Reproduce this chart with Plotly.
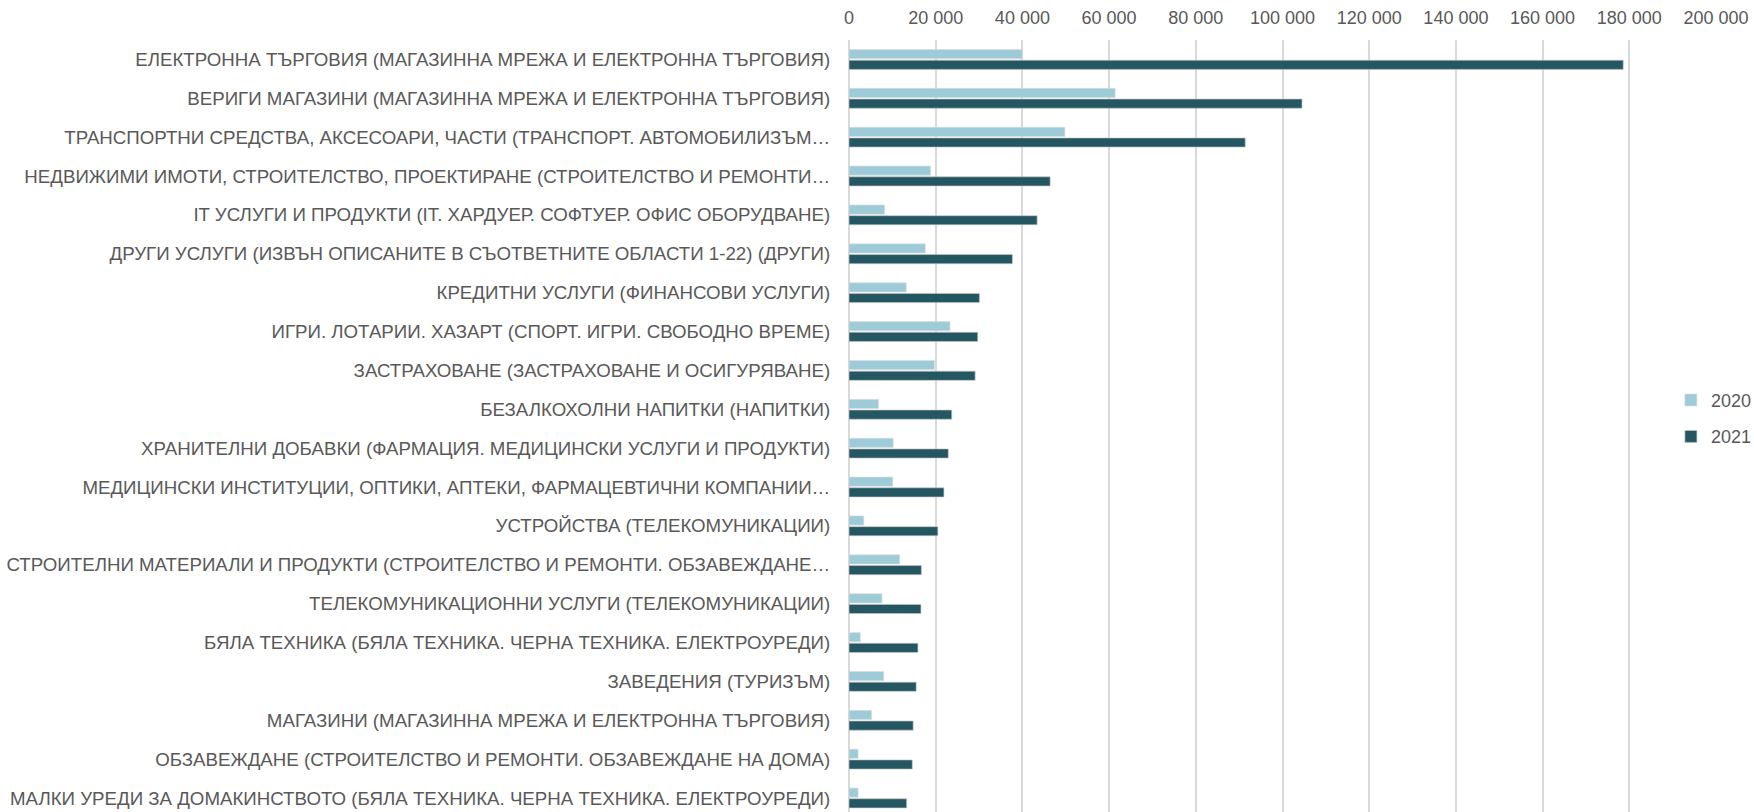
import plotly.graph_objects as go

categories = [
    "ЕЛЕКТРОННА ТЪРГОВИЯ (МАГАЗИННА МРЕЖА И ЕЛЕКТРОННА ТЪРГОВИЯ)",
    "ВЕРИГИ МАГАЗИНИ (МАГАЗИННА МРЕЖА И ЕЛЕКТРОННА ТЪРГОВИЯ)",
    "ТРАНСПОРТНИ СРЕДСТВА, АКСЕСОАРИ, ЧАСТИ (ТРАНСПОРТ. АВТОМОБИЛИЗЪМ…",
    "НЕДВИЖИМИ ИМОТИ, СТРОИТЕЛСТВО, ПРОЕКТИРАНЕ (СТРОИТЕЛСТВО И РЕМОНТИ…",
    "IT УСЛУГИ И ПРОДУКТИ (IT. ХАРДУЕР. СОФТУЕР. ОФИС ОБОРУДВАНЕ)",
    "ДРУГИ УСЛУГИ (ИЗВЪН ОПИСАНИТЕ В СЪОТВЕТНИТЕ ОБЛАСТИ 1-22) (ДРУГИ)",
    "КРЕДИТНИ УСЛУГИ (ФИНАНСОВИ УСЛУГИ)",
    "ИГРИ. ЛОТАРИИ. ХАЗАРТ (СПОРТ. ИГРИ. СВОБОДНО ВРЕМЕ)",
    "ЗАСТРАХОВАНЕ (ЗАСТРАХОВАНЕ И ОСИГУРЯВАНЕ)",
    "БЕЗАЛКОХОЛНИ НАПИТКИ (НАПИТКИ)",
    "ХРАНИТЕЛНИ ДОБАВКИ (ФАРМАЦИЯ. МЕДИЦИНСКИ УСЛУГИ И ПРОДУКТИ)",
    "МЕДИЦИНСКИ ИНСТИТУЦИИ, ОПТИКИ, АПТЕКИ, ФАРМАЦЕВТИЧНИ КОМПАНИИ…",
    "УСТРОЙСТВА (ТЕЛЕКОМУНИКАЦИИ)",
    "СТРОИТЕЛНИ МАТЕРИАЛИ И ПРОДУКТИ (СТРОИТЕЛСТВО И РЕМОНТИ. ОБЗАВЕЖДАНЕ…",
    "ТЕЛЕКОМУНИКАЦИОННИ УСЛУГИ (ТЕЛЕКОМУНИКАЦИИ)",
    "БЯЛА ТЕХНИКА (БЯЛА ТЕХНИКА. ЧЕРНА ТЕХНИКА. ЕЛЕКТРОУРЕДИ)",
    "ЗАВЕДЕНИЯ (ТУРИЗЪМ)",
    "МАГАЗИНИ (МАГАЗИННА МРЕЖА И ЕЛЕКТРОННА ТЪРГОВИЯ)",
    "ОБЗАВЕЖДАНЕ (СТРОИТЕЛСТВО И РЕМОНТИ. ОБЗАВЕЖДАНЕ НА ДОМА)",
    "МАЛКИ УРЕДИ ЗА ДОМАКИНСТВОТО (БЯЛА ТЕХНИКА. ЧЕРНА ТЕХНИКА. ЕЛЕКТРОУРЕДИ)",
]

values_2020 = [40000, 61400, 49800, 18800, 8200, 17600, 13200, 23300, 19700, 6800,
               10200, 10100, 3400, 11700, 7600, 2600, 8000, 5200, 2100, 2100]
values_2021 = [178600, 104500, 91400, 46400, 43400, 37700, 30100, 29700, 29100, 23700,
               22900, 21900, 20500, 16700, 16600, 15900, 15500, 14800, 14600, 13300]

tick_vals = [0, 20000, 40000, 60000, 80000, 100000, 120000, 140000, 160000, 180000, 200000]
tick_text = ["0", "20 000", "40 000", "60 000", "80 000", "100 000", "120 000",
             "140 000", "160 000", "180 000", "200 000"]

FONT = "Liberation Sans, Arial, sans-serif"
TXT = "#595959"

fig = go.Figure()
fig.add_trace(go.Bar(
    name="2020", y=categories, x=values_2020, orientation="h",
    marker=dict(color="#9ECBD8", line=dict(color="rgba(220,220,220,0.8)", width=0.8)),
    legendgroup="a",
))
fig.add_trace(go.Bar(
    name="2021", y=categories, x=values_2021, orientation="h",
    marker=dict(color="#255763", line=dict(color="rgba(200,200,200,0.8)", width=0.8)),
    legendgroup="b",
))

fig.update_layout(
    width=1754, height=812,
    margin=dict(l=849, r=38, t=40, b=0, autoexpand=False),
    paper_bgcolor="white", plot_bgcolor="white",
    barmode="group", bargap=0.45, bargroupgap=0.14,
    font=dict(family=FONT, size=18, color=TXT),
    legend=dict(
        x=0.948, xanchor="left", y=0.51, yanchor="middle",
        font=dict(family=FONT, size=18, color=TXT),
        traceorder="grouped", tracegroupgap=10,
        bgcolor="rgba(0,0,0,0)", itemwidth=30,
    ),
    xaxis=dict(
        side="top", range=[0, 200000], tickvals=tick_vals, ticktext=tick_text,
        showgrid=True, gridcolor="#D9D9D9", gridwidth=2,
        zeroline=True, zerolinecolor="#D9D9D9", zerolinewidth=2,
        ticks="outside", ticklen=8, tickcolor="rgba(0,0,0,0)",
        tickfont=dict(family=FONT, size=18, color=TXT),
        showline=False, fixedrange=True,
    ),
    yaxis=dict(
        type="category", range=[19.36, -0.5],
        categoryorder="array", categoryarray=categories,
        ticks="outside", ticklen=14, tickcolor="rgba(0,0,0,0)",
        tickfont=dict(family=FONT, size=18.7, color=TXT),
        showgrid=False, showline=False, automargin=False,
    ),
    showlegend=True,
)

fig.write_html(
    "out.html",
    config={"displayModeBar": False},
    post_script="document.body.style.margin='0';document.body.style.overflow='hidden';",
)
